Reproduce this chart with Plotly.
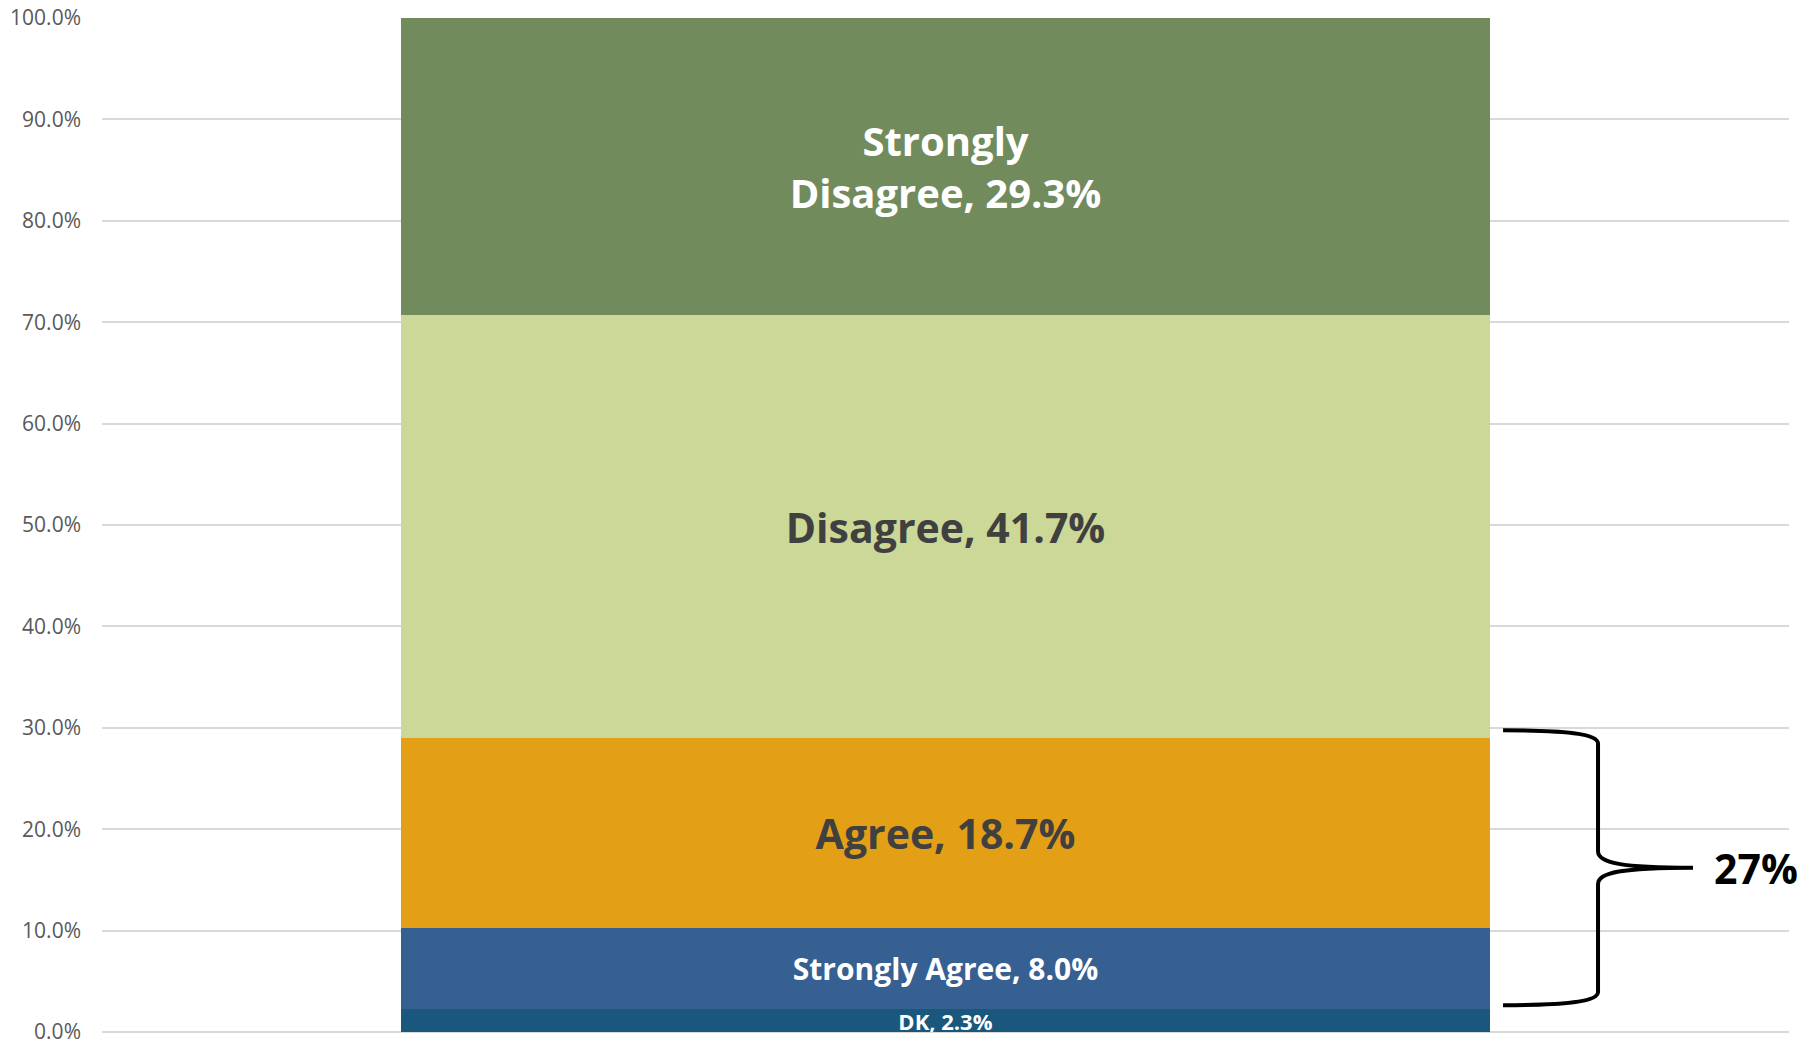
import plotly.graph_objects as go

# ---- data (bottom to top of the stacked bar) ----
categories = ["DK", "Strongly Agree", "Agree", "Disagree", "Strongly Disagree"]
values = [2.3, 8.0, 18.7, 41.7, 29.3]
labels = ["DK, 2.3%", "Strongly Agree, 8.0%", "Agree, 18.7%", "Disagree, 41.7%",
          "Strongly<br>Disagree, 29.3%"]
colors = ["#1A577C", "#366092", "#E39F16", "#CBD897", "#718B5D"]
text_colors = ["#FFFFFF", "#FFFFFF", "#404040", "#404040", "#FFFFFF"]
text_sizes = [22, 30, 41, 41, 40]
tick_vals = [0, 10, 20, 30, 40, 50, 60, 70, 80, 90, 100]
tick_text = [f"{v:.1f}%" for v in tick_vals]

FONT = "Open Sans"

fig = go.Figure()
for cat, v, lab, col, tc, ts in zip(categories, values, labels, colors, text_colors, text_sizes):
    fig.add_trace(go.Bar(
        x=[0], y=[v], name=cat, width=0.6455,
        marker=dict(color=col, line=dict(width=0)),
        text=[lab], textposition="inside", insidetextanchor="middle",
        textangle=0, constraintext="none",
        textfont=dict(family=FONT, size=ts, color=tc, weight="bold"),
        hoverinfo="skip",
    ))

# ---- brace spanning Agree + Strongly Agree ----
bottom = values[0] + 0.35
top = values[0] + values[1] + values[2] + 0.75
mid = (top + bottom) / 2
xl, xm, xt = 0.3305, 0.3868, 0.4431
r = 1.3   # corner drop (in % units)
rt = 1.6  # tip curve height
dx = xm - xl
path = (
    f"M {xl},{top} "
    f"C {xl + 0.65*dx},{top} {xm},{top - 0.25*r} {xm},{top - r} "
    f"L {xm},{mid + rt} "
    f"C {xm},{mid + 0.3*rt} {xm + 0.25*dx},{mid} {xt},{mid} "
    f"C {xm + 0.25*dx},{mid} {xm},{mid - 0.3*rt} {xm},{mid - rt} "
    f"L {xm},{bottom + r} "
    f"C {xm},{bottom + 0.25*r} {xl + 0.65*dx},{bottom} {xl},{bottom}"
)
fig.add_shape(type="path", path=path, xref="x", yref="y",
              line=dict(color="#000000", width=4), layer="above")

fig.add_annotation(x=0.4545, y=mid, xref="x", yref="y",
                   text=f"{round(values[1] + values[2])}%", showarrow=False,
                   xanchor="left", yanchor="middle",
                   font=dict(family=FONT, size=41, color="#000000", weight="bold"))

# page has an 8px body margin; compensate so the plot lands where the reference has it
fig.update_layout(
    width=1812, height=1035,
    barmode="stack", bargap=0,
    showlegend=False,
    plot_bgcolor="#FFFFFF", paper_bgcolor="#FFFFFF",
    margin=dict(l=94, r=31, t=10, b=11, autoexpand=False),
    xaxis=dict(range=[-0.5, 0.5], showticklabels=False, showgrid=False,
               zeroline=False, showline=False, fixedrange=True, automargin=False),
    yaxis=dict(range=[0, 100], tickvals=tick_vals, ticktext=tick_text,
               showgrid=True, gridcolor="#D9D9D9", gridwidth=1.5,
               zeroline=True, zerolinecolor="#D9D9D9", zerolinewidth=1.5,
               showline=False, ticks="", ticklabelstandoff=20,
               ticklabeloverflow="allow", automargin=False,
               tickfont=dict(family=FONT, size=21, color="#595959"),
               fixedrange=True),
)

fig.write_html("out.html")
